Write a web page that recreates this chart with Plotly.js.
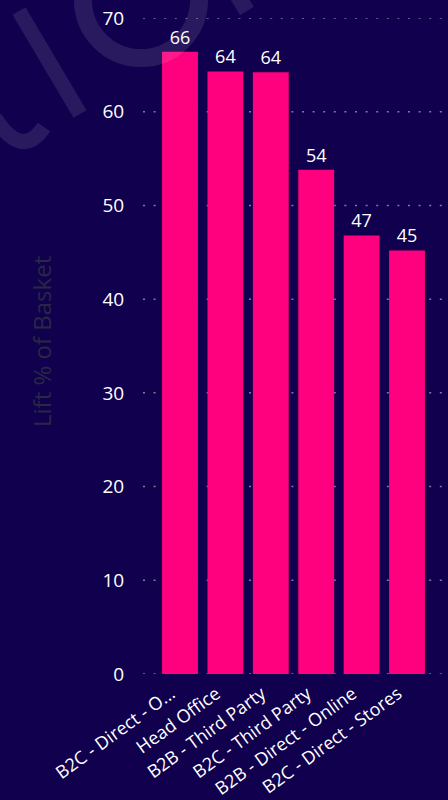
<!DOCTYPE html>
<html>
<head>
<meta charset="utf-8">
<script src="https://cdn.plot.ly/plotly-3.0.1.min.js"></script>
<style>
  html, body { margin: 0; padding: 0; background: #11004E; }
  #chart { width: 448px; height: 800px; }
</style>
</head>
<body>
<div id="chart"></div>
<script>
const categories = ["B2C - Direct - O...", "Head Office", "B2B - Third Party", "B2C - Third Party", "B2B - Direct - Online", "B2C - Direct - Stores"];
const liftValues = [66.4, 64.3, 64.2, 53.8, 46.8, 45.2];
const yTicks = [0, 10, 20, 30, 40, 50, 60, 70];

const L = 143, T = 18, W = 305, H = 656;
const px = x => (x - L) / W;
const py = y => (T + H - y) / H;
const wm = 'rgba(255,255,255,0.1)';

const trace = {
  type: 'bar',
  x: categories,
  y: liftValues,
  marker: { color: '#FF007F' },
  text: liftValues.map(v => String(Math.round(v))),
  textposition: 'outside',
  textfont: { family: 'Open Sans, sans-serif', size: 18, color: '#FFFFFF' },
  cliponaxis: false,
  hoverinfo: 'skip'
};

const gridShapes = yTicks.map(v => ({
  type: 'line', xref: 'paper', yref: 'y', layer: 'below',
  x0: 0, x1: 1, y0: v, y1: v,
  line: { color: 'rgba(200,200,215,0.6)', width: 1.5, dash: '2px,8.6px' }
}));

const layout = {
  width: 448,
  height: 800,
  paper_bgcolor: '#11004E',
  plot_bgcolor: '#11004E',
  margin: { l: L, r: 0, t: T, b: 800 - T - H },
  bargap: 0.21,
  showlegend: false,
  font: { family: 'Open Sans, sans-serif', color: '#FFFFFF' },
  xaxis: {
    type: 'category',
    range: [-0.815, 5.903],
    tickangle: -36,
    tickfont: { size: 18, color: '#FFFFFF' },
    ticklabelshift: -9,
    ticklabelstandoff: 5,
    showgrid: false,
    zeroline: false,
    showline: false,
    ticks: '',
    automargin: false
  },
  yaxis: {
    range: [0, 70],
    tickvals: yTicks,
    ticktext: yTicks.map(String),
    tickfont: { size: 19, color: '#FFFFFF' },
    ticks: 'outside',
    ticklen: 14,
    tickcolor: 'rgba(0,0,0,0)',
    showgrid: false,
    zeroline: false,
    showline: false,
    automargin: false
  },
  annotations: [{
    text: 'Lift % of Basket',
    xref: 'paper', yref: 'paper',
    x: px(41), y: py(342),
    xanchor: 'center', yanchor: 'middle',
    textangle: -90,
    showarrow: false,
    font: { size: 24, color: '#2A2744' }
  }],
  shapes: gridShapes.concat([
    { type: 'circle', xref: 'paper', yref: 'paper', layer: 'above',
      x0: px(141 - 58), x1: px(141 + 58), y0: py(58), y1: py(-58),
      line: { color: wm, width: 18 } },
    { type: 'path', xref: 'paper', yref: 'paper', layer: 'above',
      path: `M ${px(19)} ${py(11)} L ${px(80)} ${py(114)}`,
      line: { color: wm, width: 15 } },
    { type: 'path', xref: 'paper', yref: 'paper', layer: 'above',
      path: `M ${px(-5)} ${py(118)} Q ${px(22)} ${py(160)} ${px(44)} ${py(127)}`,
      line: { color: wm, width: 15 } },
    { type: 'path', xref: 'paper', yref: 'paper', layer: 'above',
      path: `M ${px(225)} ${py(-25)} L ${px(247)} ${py(11)}`,
      line: { color: wm, width: 16 } }
  ])
};

Plotly.newPlot('chart', [trace], layout, { displayModeBar: false, staticPlot: true });
</script>
</body>
</html>
